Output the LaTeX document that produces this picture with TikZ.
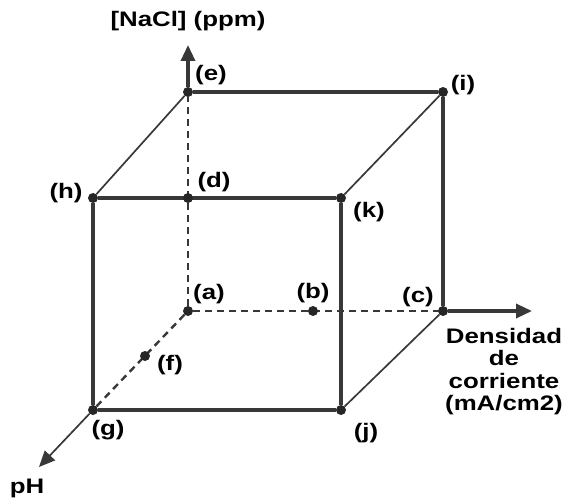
\documentclass[tikz,border=0pt]{standalone}
\usepackage{fontspec}
\setmainfont{Liberation Sans}[FakeStretch=1.23]
\usetikzlibrary{arrows.meta, backgrounds}
\usepackage{xcolor}
\definecolor{cbedge}{HTML}{383838}
\definecolor{cbdot}{HTML}{262626}

\begin{document}
\begin{tikzpicture}[
    x=1pt, y=-1pt,
    every node/.style={align=center, inner sep=0pt,
        font=\fontsize{21}{22.5}\selectfont\bfseries},
    cb-point/.style={circle, fill=cbdot, minimum size=10pt},
    cb-edge/.style={draw=cbedge, line width=3.4pt},
    cb-diag/.style={draw=cbedge, line width=1.7pt},
    cb-hidden/.style={draw=cbedge, line width=2.4pt, dash pattern=on 7pt off 5pt},
    cb-axis/.style={-{Triangle[length=16pt, width=14pt]}, draw=cbedge, line width=3.4pt},
    cb-thinaxis/.style={-{Triangle[length=16pt, width=14pt]}, draw=cbedge, line width=1.7pt},
]
    \useasboundingbox (0,0) rectangle (566,503);

    % ---- NODES: cube corners and mid points ----
    % back face
    \node[cb-point] (e) at (188,92)  {};
    \node[cb-point] (i) at (443,92)  {};
    \node[cb-point] (c) at (443,311) {};
    \node[cb-point] (a) at (188,311) {};
    % front face
    \node[cb-point] (h) at (93,198)  {};
    \node[cb-point] (k) at (341,198) {};
    \node[cb-point] (j) at (341,410) {};
    \node[cb-point] (g) at (93,410)  {};
    % points on the hidden edges
    \node[cb-point] (d) at (188,198) {};
    \node[cb-point] (b) at (313,311) {};
    \node[cb-point] (f) at (145,356) {};

    % ---- axis ends ----
    \coordinate (ztip)  at (188,45);
    \coordinate (xtip)  at (532,311);
    \coordinate (phtip) at (39,467);

    % ---- LABELS: points ----
    \node (la) at ([shift={(21,-17)}]a)  {(a)};
    \node (lb) at ([shift={(0,-18)}]b)   {(b)};
    \node (lc) at ([shift={(-25,-14)}]c) {(c)};
    \node (ld) at ([shift={(26,-16)}]d)  {(d)};
    \node (le) at ([shift={(23,-17)}]e)  {(e)};
    \node (lf) at ([shift={(25,9)}]f)    {(f)};
    \node (lg) at ([shift={(15,20)}]g)   {(g)};
    \node (lh) at ([shift={(-27,-5)}]h)  {(h)};
    \node (li) at ([shift={(20,-7)}]i)   {(i)};
    \node (lj) at ([shift={(25,23)}]j)   {(j)};
    \node (lk) at ([shift={(28,14)}]k)   {(k)};

    % ---- LABELS: axes ----
    \node[anchor=base] (lnacl) at (188,27) {[NaCl] (ppm)};
    \node[anchor=base] (lph)   at (27,493) {pH};
    \node[anchor=north] (lcurr) at (504,328) {Densidad\\de\\corriente\\(mA/cm2)};

    % ---- EDGES (behind the points) ----
    \begin{scope}[on background layer]
        % hidden edges
        \draw[cb-hidden] (a) -- (e);
        \draw[cb-hidden] (a) -- (c);
        \draw[cb-hidden] (a) -- (g);
        % depth edges
        \draw[cb-diag] (e) -- (h);
        \draw[cb-diag] (i) -- (k);
        \draw[cb-diag] (c) -- (j);
        % visible edges
        \draw[cb-edge] (e) -- (i) -- (c);
        \draw[cb-edge] (h) -- (k) -- (j) -- (g) -- (h);
        % axes
        \draw[cb-axis] (e) -- (ztip);
        \draw[cb-axis] (c) -- (xtip);
        \draw[cb-thinaxis] (g) -- (phtip);
    \end{scope}

\end{tikzpicture}
\end{document}
